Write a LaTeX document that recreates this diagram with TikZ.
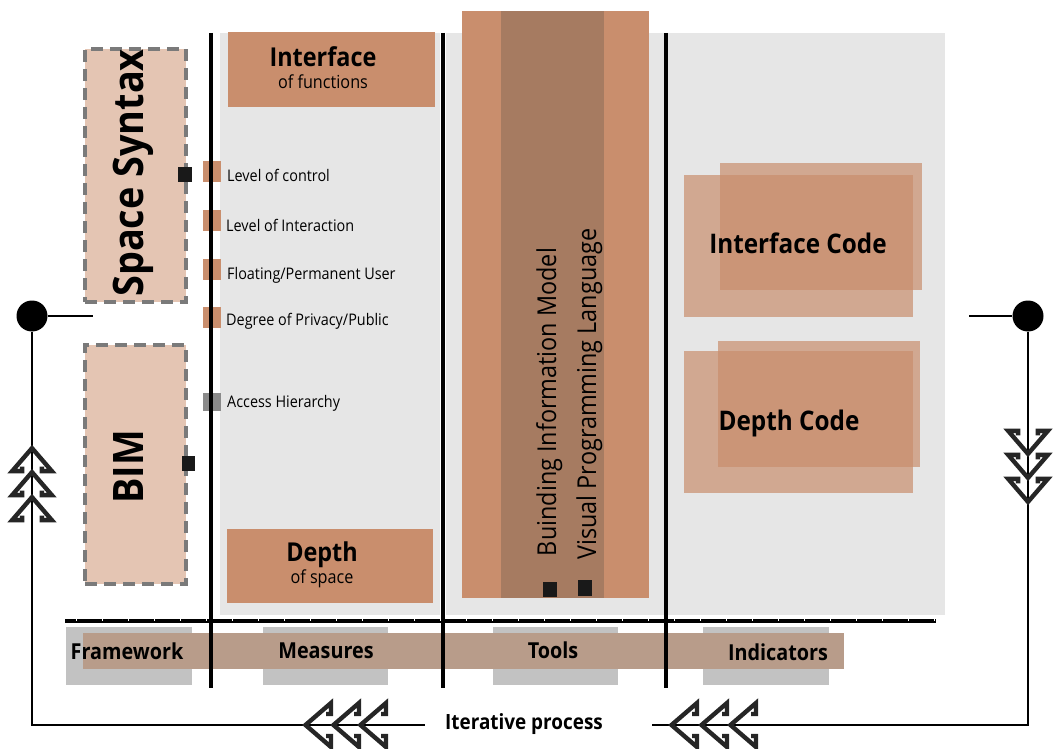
\documentclass[tikz,border=0pt]{standalone}
\usepackage{fontspec}
\setmainfont[FakeStretch=0.9]{Open Sans}
\definecolor{ora}{HTML}{C98E6D}
\definecolor{orad}{HTML}{A67B61}
\definecolor{peach}{HTML}{E4C5B3}
\definecolor{panel}{HTML}{E6E6E6}
\definecolor{lgray}{HTML}{C2C2C2}
\definecolor{barc}{HTML}{B89C8A}
\definecolor{dashc}{HTML}{7A7A7A}
\definecolor{sqgray}{HTML}{8A8A8A}
\newcommand\mybox[6]{\node[#2, inner sep=0pt, outer sep=0pt, minimum width={(#5)-(#3)}, minimum height={(#6)-(#4)}] (#1) at ({((#3)+(#5))/2},{((#4)+(#6))/2}) {};}
\newcommand\fs[1]{\fontsize{#1}{#1}\selectfont}
\tikzset{
  panelbox/.style={fill=panel},
  orabox/.style={fill=ora},
  codebox/.style={fill=ora, fill opacity=0.7},
  dashbox/.style={fill=peach, draw=dashc, line width=3.5pt, dash pattern=on 12pt off 7pt},
  lbox/.style={fill=lgray},
  blk/.style={fill=black!90},
  sepline/.style={line width=3.4pt},
  thin/.style={line width=1.8pt},
  dot/.style={circle, fill=black, inner sep=0pt, minimum size=31pt},
  measure/.style={anchor=base west, inner sep=0pt, font=\fs{16}},
  lab/.style={anchor=base, inner sep=0pt, font=\fs{22}\bfseries},
  chev/.pic={\draw[line width=4.4pt, miter limit=10, black!85] (-11,24) -- (-11,29) -- (-22,29) -- (0,3.5) -- (22,29) -- (11,29) -- (11,24);}
}
\begin{document}
\begin{tikzpicture}[x=1pt,y=-1pt]
\useasboundingbox (0,0) rectangle (1053,749);
% panels
\mybox{pm}{panelbox}{220}{33}{440}{615}
\mybox{pt}{panelbox}{446}{33}{945}{615}
% measures boxes
\mybox{ifb}{orabox}{228}{32}{435}{107}
\mybox{dpb}{orabox}{227}{529}{433}{603}
\node[anchor=base, inner sep=0pt, font=\fs{26}\bfseries] (ift) at (323,67) {Interface};
\node[anchor=base, inner sep=0pt, font=\fs{18}] (ifs) at (323,89) {of functions};
\node[anchor=base, inner sep=0pt, font=\fs{26}\bfseries] (dpt) at (322,561) {Depth};
\node[anchor=base, inner sep=0pt, font=\fs{18}] (dps) at (322,583) {of space};
% tools column
\mybox{tor}{orabox}{462}{11}{649}{598}
\mybox{tdk}{fill=orad}{501}{11}{604}{598}
\node[anchor=base, rotate=90, inner sep=0pt, font=\fs{26}] (bim2) at (556,402) {Buinding Information Model};
\node[anchor=base, rotate=90, inner sep=0pt, font=\fs{26}] (vpl) at (596,394) {Visual Programming Language};
\mybox{sq7}{blk}{543}{582}{557}{597}
\mybox{sq8}{blk}{578}{580}{592}{596}
% code boxes
\mybox{icA}{codebox}{684}{175}{913}{317}
\mybox{icB}{codebox}{720}{163}{922}{290}
\mybox{dcA}{codebox}{684}{351}{913}{493}
\mybox{dcB}{codebox}{718}{341}{920}{467}
\node[anchor=base, inner sep=0pt, font=\fs{27}\bfseries] (ict) at (798,253) {Interface Code};
\node[anchor=base, inner sep=0pt, font=\fs{27}\bfseries] (dct) at (789,430) {Depth Code};
% framework boxes
\mybox{ss}{dashbox}{85}{49}{186}{302}
\mybox{bimb}{dashbox}{85}{345}{186}{584}
\node[anchor=base, rotate=90, inner sep=0pt, font=\fs{42}\bfseries] (sst) at (143,173) {Space Syntax};
\node[anchor=base, rotate=90, inner sep=0pt, font=\fs{42}\bfseries] (bimt) at (143,467) {BIM};
\mybox{sq1}{blk}{178}{167}{192}{182}
\mybox{sq2}{blk}{182}{456}{195}{471}
% measure squares and labels
\mybox{m1}{orabox}{203}{161}{221}{182}
\mybox{m2}{orabox}{203}{210}{221}{231}
\mybox{m3}{orabox}{203}{259}{221}{280}
\mybox{m4}{orabox}{203}{307}{221}{328}
\mybox{m5}{fill=sqgray}{203}{393}{221}{411}
\node[measure] (l1) at (227,182) {Level of control};
\node[measure] (l2) at (226,231) {Level of Interaction};
\node[measure] (l3) at (227,279) {Floating/Permanent User};
\node[measure] (l4) at (226,325) {Degree of Privacy/Public};
\node[measure] (l5) at (227,407) {Access Hierarchy};
% bottom category bar
\mybox{g1}{lbox}{66}{627}{192}{685}
\mybox{g2}{lbox}{263}{627}{388}{685}
\mybox{g3}{lbox}{493}{627}{618}{685}
\mybox{g4}{lbox}{703}{627}{829}{685}
\mybox{bar}{fill=barc}{83}{633}{844}{669}
\node[lab] (c1) at (127,659) {Framework};
\node[lab] (c2) at (326,658) {Measures};
\node[lab] (c3) at (553,658) {Tools};
\node[lab] (c4) at (778,660) {Indicators};
% separators
\coordinate (h1) at (65,621); \coordinate (h2) at (936,621);
\draw[line width=4pt] (h1) -- (h2);
\foreach \x in {76,102,...,936} \draw[white, line width=0.7pt] (\x,619) -- (\x,620.6);
\foreach \x/\n in {211/a,443/b,666/c} {
  \coordinate (v\n1) at (\x,33); \coordinate (v\n2) at (\x,688);
  \draw[sepline] (v\n1) -- (v\n2);
}
% iterative loop
\node[dot] (cl) at (32,316) {};
\node[dot] (cr) at (1028,316) {};
\coordinate (cle) at (93,316);
\coordinate (cre) at (969,316);
\coordinate (bl) at (32,725);
\coordinate (ble) at (425,725);
\coordinate (br) at (1028,725);
\coordinate (bre) at (652,725);
\draw[thin] (cl) -- (cle);
\draw[thin] (cl) -- (bl) -- (ble);
\draw[thin] (cre) -- (cr);
\draw[thin] (cr) -- (br) -- (bre);
\node[anchor=base, inner sep=0pt, font=\fs{21}\bfseries] (itp) at (524,729) {Iterative process};
% chevrons
\foreach \y in {445,469,494} \pic[scale=0.9] at (32,\y) {chev};
\foreach \y in {457,481,505} \pic[scale=0.9, rotate=180] at (1028,\y) {chev};
\foreach \x in {302,330,357} \pic[rotate=90] at (\x,725) {chev};
\foreach \x in {668,698,727} \pic[rotate=90] at (\x,725) {chev};
\end{tikzpicture}
\end{document}
